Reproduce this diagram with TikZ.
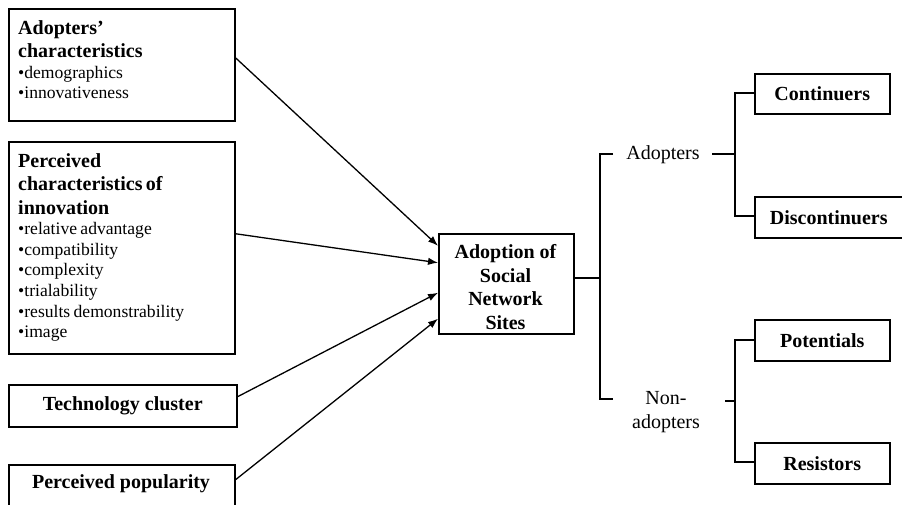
\documentclass[tikz,border=0pt]{standalone}
\usepackage{fontspec}
\setmainfont{Liberation Serif}
\usetikzlibrary{arrows.meta}
\newcommand\hdfont{\fontsize{20}{23.5}\selectfont\bfseries}
\newcommand\blfont{\fontsize{17.6}{20.6}\selectfont}
\newcommand\lbfont{\fontsize{20}{24}\selectfont}
\tikzset{
  box/.style={draw, line width=1.5pt, rectangle, inner sep=0pt, anchor=north west},
  boxtext/.style={anchor=north west, inner sep=0pt, text width=210pt, align=left},
  conn/.style={line width=1.3pt},
  arr/.style={line width=1.3pt, -{Latex[length=10pt,width=7.5pt]}},
  lbl/.style={font=\lbfont, inner sep=0pt, align=center},
}
\begin{document}
\begin{tikzpicture}[x=1pt,y=-1pt]
\useasboundingbox (0,0) rectangle (902,504);
\fill[white] (0,0) rectangle (902,504);

% left boxes
\node[box, minimum width=226pt, minimum height=112pt] (b1) at (8,8) {};
\node[boxtext] (t1) at (18,20) {{\hdfont Adopters'\par characteristics\par}{\blfont •demographics\par •innovativeness\par}};

\node[box, minimum width=226pt, minimum height=212pt] (b2) at (8,141) {};
\node[boxtext] (t2) at (18,153) {{\hdfont Perceived\par characteristics of\par innovation\par}{\blfont •relative advantage\par •compatibility\par •complexity\par •trialability\par •results demonstrability\par •image\par}};

\node[box, minimum width=228pt, minimum height=42pt, font=\hdfont] (b3) at (8,384) {Technology cluster};

\node[box, minimum width=226pt, minimum height=44pt] (b4) at (8,464) {};
\node[font=\hdfont, inner sep=0pt] (t4) at (121,484) {Perceived popularity};

% center box
\node[box, minimum width=135pt, minimum height=100pt] (c) at (438,233) {};
\node[font=\hdfont, align=center, inner sep=0pt] (ct) at (505.5,287) {Adoption of\\Social\\Network\\Sites};

% arrows
\draw[arr] ([yshift=7pt]b1.east) -- ([yshift=38pt]c.west);
\draw[arr] ([yshift=14pt]b2.east) -- ([yshift=21pt]c.west);
\draw[arr] ([yshift=9pt]b3.east) -- ([yshift=-9pt]c.west);
\draw[arr] ([yshift=7pt]b4.east) -- ([yshift=-35pt]c.west);

% right boxes
\node[box, minimum width=135pt, minimum height=40pt, font=\hdfont] (r1) at (754,73) {Continuers};
\node[box, minimum width=148pt, minimum height=41pt, font=\hdfont] (r2) at (754,196) {Discontinuers};
\node[box, minimum width=135pt, minimum height=41pt, font=\hdfont] (r3) at (754,319) {Potentials};
\node[box, minimum width=135pt, minimum height=41pt, font=\hdfont] (r4) at (754,442) {Resistors};

% labels
\node[lbl] (ad) at (663,155) {Adopters};
\node[lbl] (na) at (666,412) {Non-\\adopters};

% brackets
\coordinate (tr) at (600,278);
\coordinate (tt) at (600,154);
\coordinate (tb) at (600,399);
\coordinate (ta) at (613,154);
\coordinate (tn) at (613,399);
\draw[conn] (c.east |- tr) -- (tr);
\draw[conn] (ta) -- (tt) -- (tb) -- (tn);

\coordinate (a1) at (712,154);
\coordinate (a2) at (735,154);
\draw[conn] (a1) -- (a2);
\draw[conn] (r1.west |- 0,93) -- (735,93) -- (735,216) -- (r2.west |- 0,216);

\coordinate (n1) at (725,401);
\coordinate (n2) at (735,401);
\draw[conn] (n1) -- (n2);
\draw[conn] (r3.west |- 0,340) -- (735,340) -- (735,462) -- (r4.west |- 0,462);
\end{tikzpicture}
\end{document}
